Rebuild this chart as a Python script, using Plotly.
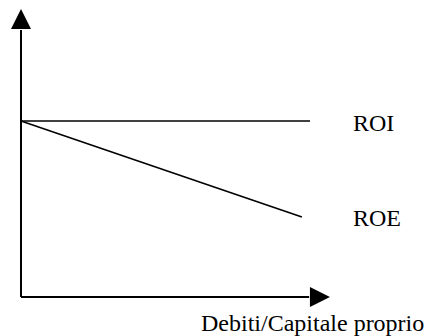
import plotly.graph_objects as go

# Data (arbitrary units)
leverage = [0, 10]
roi = [6, 6]
roe_x = [0, 9.72]
roe = [6, 2.73]

x_axis_end = 9.97
x_arrow_tip = 10.69
y_axis_end = 9.10
y_arrow_tip = 9.82

labels = ["ROI", "ROE"]
label_x = 11.42
label_y = [5.93, 2.69]
x_title = "Debiti/Capitale proprio"

FONT = dict(family="Liberation Serif, Times New Roman, serif", size=24, color="black")

fig = go.Figure()

# Axes drawn as lines with arrowheads
fig.add_trace(go.Scatter(x=[0, 0], y=[0, y_axis_end], mode="lines",
                         line=dict(color="black", width=2), hoverinfo="skip"))
fig.add_trace(go.Scatter(x=[0, x_axis_end], y=[0, 0], mode="lines",
                         line=dict(color="black", width=2), hoverinfo="skip"))
fig.add_trace(go.Scatter(x=[0], y=[y_arrow_tip], mode="markers",
                         marker=dict(symbol="arrow-up", size=20, color="black",
                                     line=dict(width=0)), hoverinfo="skip"))
fig.add_trace(go.Scatter(x=[x_arrow_tip], y=[0], mode="markers",
                         marker=dict(symbol="arrow-right", size=20, color="black",
                                     line=dict(width=0)), hoverinfo="skip"))

# ROI and ROE
fig.add_trace(go.Scatter(x=leverage, y=roi, mode="lines", name="ROI",
                         line=dict(color="black", width=1.6)))
fig.add_trace(go.Scatter(x=roe_x, y=roe, mode="lines", name="ROE",
                         line=dict(color="black", width=1.6)))

for t, yy in zip(labels, label_y):
    fig.add_annotation(x=label_x, y=yy, text=t, showarrow=False,
                       xanchor="left", yanchor="middle", font=FONT)
fig.add_annotation(x=10.09, y=-0.88, text=x_title, showarrow=False,
                   xanchor="center", yanchor="middle", font=FONT, borderpad=0)

px_x = 28.9
px_y = 29.33
fig.update_layout(
    width=426, height=336,
    margin=dict(l=0, r=0, t=0, b=0),
    paper_bgcolor="white", plot_bgcolor="white",
    showlegend=False,
    xaxis=dict(visible=False, range=[-21 / px_x, (426 - 21) / px_x], fixedrange=True),
    yaxis=dict(visible=False, range=[(297 - 336) / px_y, 297 / px_y], fixedrange=True),
)

fig.write_html(
    "out.html",
    config={"displayModeBar": False},
    post_script="document.body.style.margin='0';document.body.style.overflow='hidden';",
)
